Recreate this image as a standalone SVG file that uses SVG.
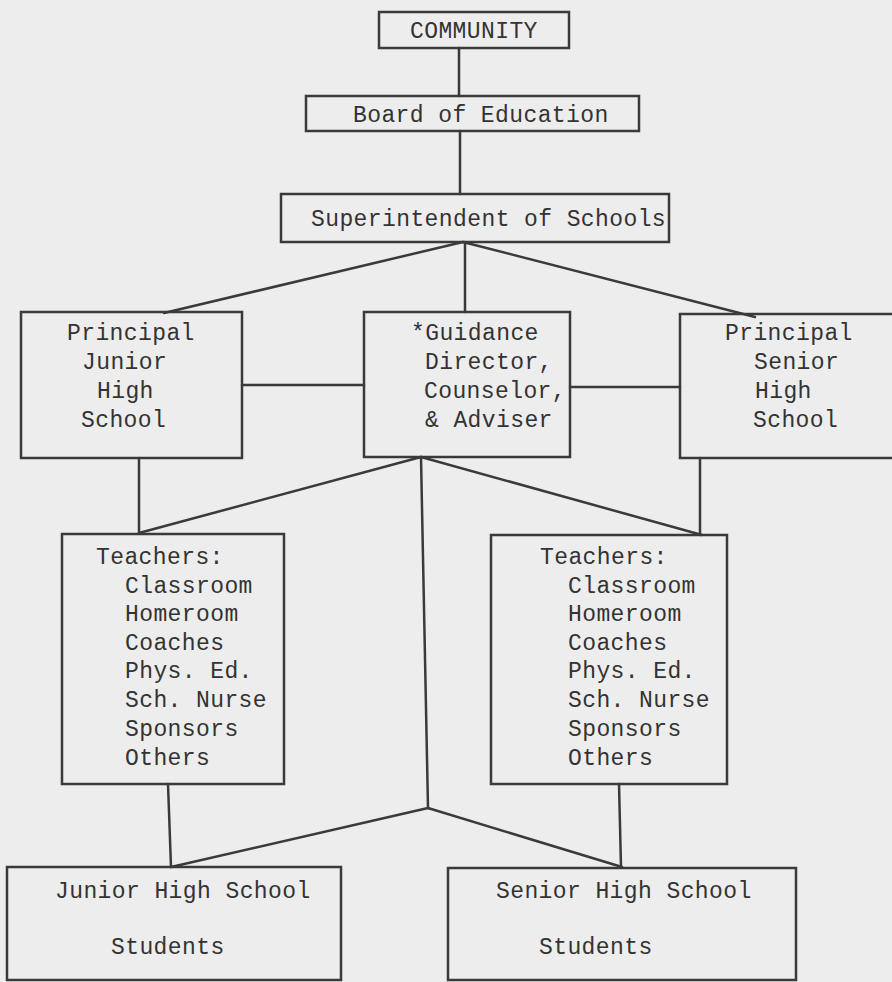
<svg xmlns="http://www.w3.org/2000/svg" width="892" height="982" viewBox="0 0 892 982">
<style>
.box{fill:none;stroke:#3a3a3a;stroke-width:2.5}
.ln{fill:none;stroke:#3a3a3a;stroke-width:2.5;stroke-linecap:round}
text{font-family:"Liberation Mono","DejaVu Sans Mono",monospace;font-size:23px;letter-spacing:0.4px;fill:#333}
</style>
<rect x="0" y="0" width="892" height="982" fill="#ededed"/>
<g id="connectors">
<path class="ln" d="M459 48 V96"/>
<path class="ln" d="M460 131 V194"/>
<path class="ln" d="M463 242 L164 313"/>
<path class="ln" d="M465 242 V312"/>
<path class="ln" d="M463 242 L755 317"/>
<path class="ln" d="M242 385 H364"/>
<path class="ln" d="M570 387 H680"/>
<path class="ln" d="M139 458 V533"/>
<path class="ln" d="M700 458 V535"/>
<path class="ln" d="M421 457 L139 533"/>
<path class="ln" d="M421 457 L702 535"/>
<path class="ln" d="M421 457 L428 808"/>
<path class="ln" d="M428 808 L171 867"/>
<path class="ln" d="M428 808 L622 867"/>
<path class="ln" d="M168 784 L171 867"/>
<path class="ln" d="M619 784 L621 867"/>
</g>
<g id="community">
<rect class="box" x="379" y="12" width="190" height="36"/>
<text x="410" y="38">COMMUNITY</text>
</g>
<g id="board">
<rect class="box" x="306" y="96" width="333" height="35"/>
<text x="353" y="122">Board of Education</text>
</g>
<g id="superintendent">
<rect class="box" x="281" y="194" width="388" height="48"/>
<text x="311" y="226">Superintendent of Schools</text>
</g>
<g id="principal-junior">
<rect class="box" x="21" y="312" width="221" height="146"/>
<text x="67" y="340">Principal</text>
<text x="82" y="369">Junior</text>
<text x="97" y="398">High</text>
<text x="81" y="427">School</text>
</g>
<g id="guidance">
<rect class="box" x="364" y="312" width="206" height="145"/>
<text x="411" y="340">*Guidance</text>
<text x="425" y="369">Director,</text>
<text x="424" y="398">Counselor,</text>
<text x="425" y="427">&amp; Adviser</text>
</g>
<g id="principal-senior">
<rect class="box" x="680" y="314" width="214" height="144"/>
<text x="725" y="340">Principal</text>
<text x="754" y="369">Senior</text>
<text x="755" y="398">High</text>
<text x="753" y="427">School</text>
</g>
<g id="teachers-junior">
<rect class="box" x="62" y="534" width="222" height="250"/>
<text x="96" y="564">Teachers:</text>
<text x="125" y="593">Classroom</text>
<text x="125" y="621">Homeroom</text>
<text x="125" y="650">Coaches</text>
<text x="125" y="678">Phys. Ed.</text>
<text x="125" y="707">Sch. Nurse</text>
<text x="125" y="736">Sponsors</text>
<text x="125" y="765">Others</text>
</g>
<g id="teachers-senior">
<rect class="box" x="491" y="535" width="236" height="249"/>
<text x="540" y="564">Teachers:</text>
<text x="568" y="593">Classroom</text>
<text x="568" y="621">Homeroom</text>
<text x="568" y="650">Coaches</text>
<text x="568" y="678">Phys. Ed.</text>
<text x="568" y="707">Sch. Nurse</text>
<text x="568" y="736">Sponsors</text>
<text x="568" y="765">Others</text>
</g>
<g id="students-junior">
<rect class="box" x="7" y="867" width="334" height="113"/>
<text x="55" y="898">Junior High School</text>
<text x="111" y="954">Students</text>
</g>
<g id="students-senior">
<rect class="box" x="448" y="868" width="348" height="112"/>
<text x="496" y="898">Senior High School</text>
<text x="539" y="954">Students</text>
</g>
</svg>
